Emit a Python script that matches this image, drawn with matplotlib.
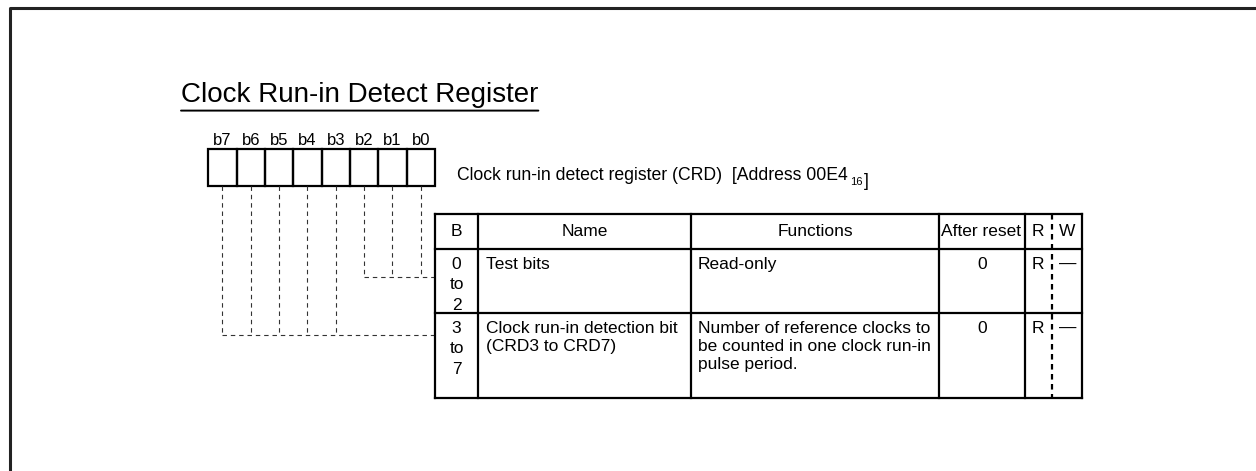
import matplotlib.pyplot as plt

plt.rcParams['font.family'] = ['Liberation Sans', 'DejaVu Sans']

title = 'Clock Run-in Detect Register'
bit_labels = ['b7', 'b6', 'b5', 'b4', 'b3', 'b2', 'b1', 'b0']
reg_desc = 'Clock run-in detect register (CRD)  [Address 00E4'
reg_sub = '16'

headers = ['B', 'Name', 'Functions', 'After reset', 'R', 'W']
row_bits = ['0\nto\n2', '3\nto\n7']
row_names = ['Test bits', 'Clock run-in detection bit\n(CRD3 to CRD7)']
row_funcs = ['Read-only', 'Number of reference clocks to\nbe counted in one clock run-in\npulse period.']
row_reset = ['0', '0']
row_r = ['R', 'R']
row_w = ['\u2014', '\u2014']
# which register bits feed each table row (b7 is index 0)
row_groups = [[5, 6, 7], [0, 1, 2, 3, 4]]

# layout (pixels)
W, H = 1256, 471
box_x0, box_w, box_top, box_bot = 208.3, 28.33, 149, 186
tab_left, tab_top = 435, 214
col_x = [435, 478, 691, 939, 1025, 1052, 1082]
row_y = [214, 249, 313, 398]
join_y = [277, 335]

fig = plt.figure(figsize=(W / 100, H / 100), dpi=100)
ax = fig.add_axes([0, 0, 1, 1])
ax.set_xlim(0, W)
ax.set_ylim(H, 0)
ax.axis('off')

# outer frame (runs off the right/bottom)
ax.plot([10, 10, W + 5], [H + 5, 8, 8], color='#222222', lw=2.2, solid_capstyle='butt')

t = ax.text(181, 102, title, fontsize=20, ha='left', va='baseline')
ax.annotate('', xy=(1, -0.1), xytext=(0, -0.1), xycoords=t, textcoords=t,
            arrowprops=dict(arrowstyle='-', lw=1.4, color='black', shrinkA=0, shrinkB=0))

# register boxes
for i, lab in enumerate(bit_labels):
    x = box_x0 + i * box_w
    ax.add_patch(plt.Rectangle((x, box_top), box_w, box_bot - box_top, fill=False,
                               ec='black', lw=1.6))
    ax.text(x + box_w / 2, 145, lab, fontsize=12, ha='center', va='baseline')

d = ax.text(457, 180, reg_desc, fontsize=12.7, ha='left', va='baseline')
s = ax.annotate(reg_sub, xy=(1, 0), xycoords=d, xytext=(2, -0.5), textcoords='offset points',
                fontsize=8, ha='left', va='baseline')
ax.annotate(']', xy=(1, 0), xycoords=s, xytext=(0.5, 0.5), textcoords='offset points',
            fontsize=12.7, ha='left', va='baseline')

# dashed connectors
dash = dict(color='#333333', lw=0.8, linestyle=(0, (4, 3.5)))
for grp, jy in zip(row_groups, join_y):
    xs = [box_x0 + (i + 0.5) * box_w for i in grp]
    for x in xs:
        ax.plot([x, x], [box_bot, jy], **dash)
    ax.plot([min(xs), tab_left], [jy, jy], **dash)

# table grid
for x in col_x:
    if x == 1052:
        ax.plot([x, x], [row_y[0], row_y[-1]], color='black', lw=1.6, linestyle=(0, (2.5, 2)))
    else:
        ax.plot([x, x], [row_y[0], row_y[-1]], color='black', lw=1.6)
for y in row_y:
    ax.plot([col_x[0], col_x[-1]], [y, y], color='black', lw=1.6)

fs = 12.5
hy = (row_y[0] + row_y[1]) / 2
head_x = [(col_x[0] + col_x[1]) / 2, (col_x[1] + col_x[2]) / 2, (col_x[2] + col_x[3]) / 2,
          (col_x[3] + col_x[4]) / 2 - 1, 1038, 1067]
for hx, h in zip(head_x, headers):
    ax.text(hx, hy, h, fontsize=fs, ha='center', va='center')

for i in range(len(row_names)):
    top = row_y[i + 1] + 8
    ax.text((col_x[0] + col_x[1]) / 2, top, row_bits[i], fontsize=fs, ha='center', va='top',
            linespacing=1.45)
    ax.text(col_x[1] + 8, top, row_names[i], fontsize=fs, ha='left', va='top', linespacing=1.27)
    ax.text(col_x[2] + 7, top, row_funcs[i], fontsize=fs, ha='left', va='top', linespacing=1.27)
    ax.text((col_x[3] + col_x[4]) / 2, top, row_reset[i], fontsize=fs, ha='center', va='top')
    ax.text(1038, top, row_r[i], fontsize=fs, ha='center', va='top')
    ax.text(1068, top, row_w[i], fontsize=fs, ha='center', va='top')

fig.savefig('out.png', dpi=100, facecolor='white')
